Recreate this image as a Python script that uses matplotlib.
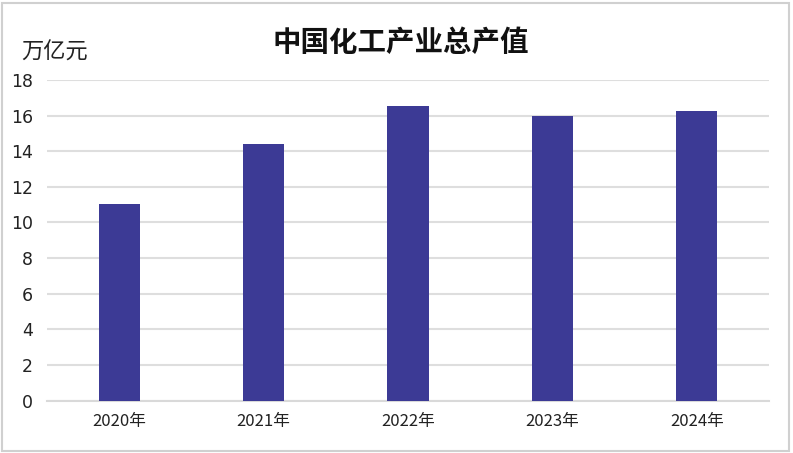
import matplotlib
matplotlib.use('Agg')
import matplotlib.pyplot as plt
from matplotlib.patches import Rectangle

years = ['2020年', '2021年', '2022年', '2023年', '2024年']
values = [11.05, 14.40, 16.54, 16.00, 16.26]
yticks = [0, 2, 4, 6, 8, 10, 12, 14, 16, 18]

plt.rcParams['font.family'] = ['Noto Sans CJK SC', 'DejaVu Sans']

fig = plt.figure(figsize=(7.93, 4.53), dpi=100)
ax = fig.add_axes([0.0593, 0.1155, 0.9104, 0.708])

x = range(len(years))
ax.bar(x, values, width=0.285, color='#3c3a95', zorder=3)

ax.set_xlim(-0.5, len(years) - 0.5)
ax.set_ylim(0, 18)
ax.set_yticks(yticks)
ax.set_yticklabels([str(t) for t in yticks], fontsize=12.5,
                   family=['Liberation Sans Narrow', 'DejaVu Sans'])
ax.set_xticks(list(x))
ax.set_xticklabels(years, fontsize=12,
                   family=['Liberation Sans Narrow', 'Noto Sans CJK SC'])
ax.tick_params(axis='both', length=0, colors='#222222')
ax.tick_params(axis='y', pad=10)
ax.tick_params(axis='x', pad=9)

ax.yaxis.grid(True, color='#dedede', linewidth=1.5, zorder=0)
for s in ['top', 'right', 'left']:
    ax.spines[s].set_visible(False)
ax.spines['bottom'].set_color('#d9d9d9')
ax.spines['bottom'].set_linewidth(1.5)

fig.text(0.505, 0.905, '中国化工产业总产值', ha='center', va='center',
         fontsize=20.5, fontweight='bold', color='#111111')
fig.text(0.027, 0.885, '万亿元', ha='left', va='center', fontsize=16,
         color='#222222')

fig.patches.append(Rectangle((0.002, 0.004), 0.993, 0.99, transform=fig.transFigure,
                             fill=False, edgecolor='#d0d0d0', linewidth=1.5))

fig.savefig('out.png', dpi=100)
